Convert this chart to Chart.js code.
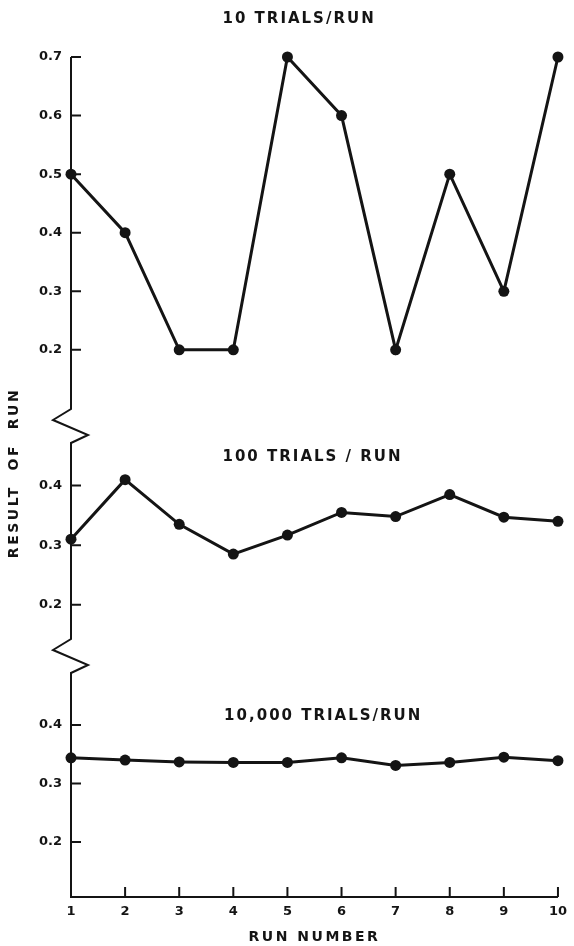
<!DOCTYPE html>
<html>
<head>
<meta charset="utf-8">
<title>Result of run</title>
<script src="https://cdn.jsdelivr.net/npm/chart.js@4/dist/chart.umd.min.js"></script>
<style>
  body { margin: 0; background: #fff; }
  canvas { display: block; }
</style>
</head>
<body>
<canvas id="runs" width="574" height="946"></canvas>
<script>
var runs = ['1', '2', '3', '4', '5', '6', '7', '8', '9', '10'];
var tenTrials = [0.5, 0.4, 0.2, 0.2, 0.7, 0.6, 0.2, 0.5, 0.3, 0.7];
var hundredTrials = [0.31, 0.41, 0.335, 0.285, 0.317, 0.355, 0.348, 0.385, 0.347, 0.34];
var tenThousandTrials = [0.344, 0.34, 0.337, 0.336, 0.336, 0.344, 0.331, 0.336, 0.345, 0.339];
var topTicks = [0.2, 0.3, 0.4, 0.5, 0.6, 0.7];
var lowerTicks = [0.2, 0.3, 0.4];

var ink = '#141414';
var labelFont = { family: 'DejaVu Sans', size: 13, weight: 'bold' };

// y axis runs down the left side in three pieces, joined by zigzag breaks,
// with short tick marks pointing into the plot
const brokenAxis = {
  id: 'brokenAxis',
  beforeDatasetsDraw(chart) {
    const ctx = chart.ctx, area = chart.chartArea;
    const panels = ['yTop', 'yMid', 'yLow'].map(id => chart.scales[id]);
    const xs = chart.scales.x;
    const L = area.left, gap = 17;
    ctx.save();
    ctx.strokeStyle = ink;
    ctx.lineWidth = 2;
    ctx.beginPath();
    ctx.moveTo(L, panels[0].top);
    panels.forEach((s, i) => {
      if (i < panels.length - 1) {
        const b = s.bottom;
        ctx.lineTo(L, b - gap);
        ctx.lineTo(L - 18, b - 6);
        ctx.lineTo(L + 17, b + 9);
        ctx.lineTo(L, b + gap);
      }
    });
    ctx.lineTo(L, area.bottom);
    ctx.lineTo(area.right, area.bottom);
    // inward ticks
    panels.forEach(s => {
      s.ticks.forEach(t => {
        const y = s.getPixelForValue(t.value);
        ctx.moveTo(L, y);
        ctx.lineTo(L + 10, y);
      });
    });
    xs.ticks.forEach((t, i) => {
      if (i === 0) return;
      const x = xs.getPixelForTick(i);
      ctx.moveTo(x, area.bottom);
      ctx.lineTo(x, area.bottom - 10);
    });
    ctx.stroke();
    ctx.restore();
  }
};

// panel headings and axis titles, spaced out like the typeset original
const runText = {
  id: 'runText',
  afterDraw(chart, args, opts) {
    const ctx = chart.ctx, area = chart.chartArea;
    ctx.save();
    ctx.fillStyle = ink;
    ctx.textBaseline = 'middle';
    ctx.font = 'bold 15px "DejaVu Sans"';
    ctx.letterSpacing = '2px';
    ctx.textAlign = 'left';
    opts.headings.forEach(h => {
      const x = chart.scales.x.getPixelForValue(h.run);
      const y = chart.scales[h.scale].getPixelForValue(h.value);
      ctx.fillText(h.text, x, y);
    });
    ctx.font = 'bold 14px "DejaVu Sans"';
    ctx.letterSpacing = '2.5px';
    ctx.textAlign = 'center';
    ctx.fillText(opts.xTitle, (area.left + area.right) / 2, area.bottom + 40);
    ctx.translate(14, 473);
    ctx.rotate(-Math.PI / 2);
    ctx.fillText(opts.yTitle, 0, 0);
    ctx.restore();
  }
};

function panelScale(min, max, ticks, weight) {
  return {
    type: 'linear',
    position: 'left',
    stack: 'result',
    stackWeight: weight,
    min: min,
    max: max,
    afterBuildTicks: s => { s.ticks = ticks.map(v => ({ value: v })); },
    afterFit: s => { s.width = 71; },
    grid: { display: false, drawTicks: false },
    border: { display: false },
    ticks: {
      color: ink,
      font: labelFont,
      padding: 9,
      callback: v => v.toFixed(1)
    }
  };
}

function series(values, axis) {
  return {
    data: values,
    yAxisID: axis,
    borderColor: ink,
    borderWidth: 3,
    pointRadius: 5.5,
    pointBackgroundColor: ink,
    pointBorderWidth: 0,
    tension: 0,
    clip: false
  };
}

new Chart(document.getElementById('runs'), {
  type: 'line',
  data: {
    labels: runs,
    datasets: [
      series(tenTrials, 'yTop'),
      series(hundredTrials, 'yMid'),
      series(tenThousandTrials, 'yLow')
    ]
  },
  options: {
    responsive: false,
    animation: false,
    layout: { padding: { top: 57, right: 11, left: 0, bottom: 0 } },
    scales: {
      x: {
        type: 'category',
        offset: false,
        afterFit: s => { s.height = 49; },
        grid: { display: false, drawTicks: false },
        border: { display: false },
        ticks: { color: ink, font: labelFont, padding: 7, maxRotation: 0, autoSkip: false }
      },
      yLow: panelScale(0.106, 0.518, lowerTicks, 241),
      yMid: panelScale(0.114, 0.5, lowerTicks, 230),
      yTop: panelScale(0.07, 0.7, topTicks, 369)
    },
    plugins: {
      legend: { display: false },
      tooltip: { enabled: false },
      runText: {
        headings: [
          { text: '10 TRIALS/RUN', run: 2.8, scale: 'yTop', value: 0.765 },
          { text: '100 TRIALS / RUN', run: 2.8, scale: 'yMid', value: 0.447 },
          { text: '10,000 TRIALS/RUN', run: 2.83, scale: 'yLow', value: 0.415 }
        ],
        xTitle: 'RUN NUMBER',
        yTitle: 'RESULT  OF  RUN'
      }
    }
  },
  plugins: [brokenAxis, runText]
});
</script>
</body>
</html>
